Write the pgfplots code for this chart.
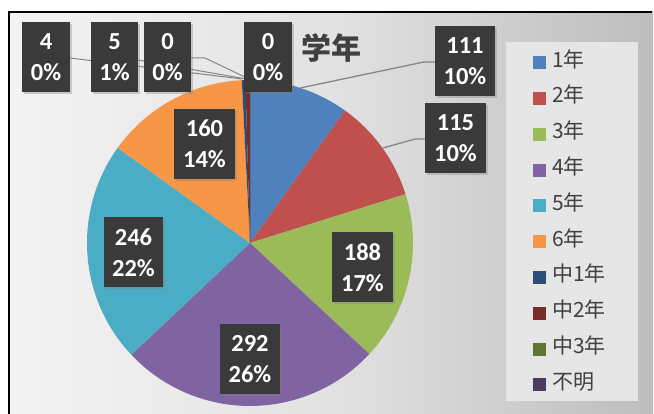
\documentclass[border=0pt]{standalone}
\usepackage{pgfplots}
\pgfplotsset{compat=1.18}
\usepackage{pgfplotstable}
\usetikzlibrary{shadows}
\usepackage{fontspec}
\setmainfont{Carlito}
\newfontfamily\cjk{Noto Sans CJK JP}
\definecolor{c1}{HTML}{4F81BD}
\definecolor{c2}{HTML}{C0504D}
\definecolor{c3}{HTML}{9BBB59}
\definecolor{c4}{HTML}{8064A2}
\definecolor{c5}{HTML}{4BACC6}
\definecolor{c6}{HTML}{F79646}
\definecolor{c7}{HTML}{2C4D75}
\definecolor{c8}{HTML}{772C2A}
\definecolor{c9}{HTML}{5F7530}
\definecolor{c10}{HTML}{4D3B62}
\definecolor{boxgray}{HTML}{3A3A3A}
\definecolor{txtgray}{HTML}{404040}
\definecolor{leadgray}{HTML}{858585}
\definecolor{bgL}{HTML}{F3F3F3}
\definecolor{bgM}{HTML}{E2E2E2}
\definecolor{bgR}{HTML}{BDBDBD}
\definecolor{legbg}{HTML}{E6E6E6}

\pgfplotstableread{
v col
111 c1
115 c2
188 c3
292 c4
246 c5
160 c6
4 c7
5 c8
0 c9
0 c10
}\piedata

\begin{document}
\begin{tikzpicture}[
  lbl/.style={fill=boxgray, text=white, align=center, inner sep=0pt,
    minimum height=70pt, font=\bfseries\fontsize{24.5}{31}\selectfont,
    drop shadow={opacity=0.35, shadow xshift=2pt, shadow yshift=-2pt}}]
\useasboundingbox (0,0) rectangle (654pt,414pt);
\begin{axis}[scale only axis, width=654pt, height=414pt,
  xmin=0, xmax=654, ymin=0, ymax=414, hide axis, clip=false,
  legend image code/.code={\fill[#1, draw=none] (0pt,-6.5pt) rectangle (13pt,6.5pt);},
  legend style={at={(axis cs:533,359)}, anchor=north west, draw=none, fill=none,
    inner sep=0pt, row sep=20.8pt, column sep=6pt,
    font=\cjk\fontsize{21}{24}\selectfont, text=txtgray,
    nodes={inner sep=0pt, text height=12pt, text depth=3pt}},
  legend cell align=left]
% background
\fill[white] (axis cs:0,0) rectangle (axis cs:654,414);
\shade[left color=bgL, right color=bgR, middle color=bgM] (axis cs:9,0) rectangle (axis cs:653,402);
\draw[black, line width=2pt] (axis cs:9,-3) -- (axis cs:9,402) -- (axis cs:652,402);
\fill[legbg] (axis cs:506,13) rectangle (axis cs:638,372);
% pie slices from data
\pgfplotstablegetrowsof{\piedata}
\pgfmathtruncatemacro\nrows{\pgfplotsretval-1}
\def\total{0}
\pgfplotsforeachungrouped \i in {0,...,\nrows}{%
  \pgfplotstablegetelem{\i}{v}\of\piedata
  \pgfmathsetmacro\total{\total+\pgfplotsretval}}
\def\cum{0}
\pgfplotsforeachungrouped \i in {0,...,\nrows}{%
  \pgfplotstablegetelem{\i}{v}\of\piedata \let\val\pgfplotsretval
  \pgfplotstablegetelem{\i}{col}\of\piedata \let\col\pgfplotsretval
  \pgfmathsetmacro\angA{90-\cum/\total*360}%
  \pgfmathsetmacro\cum{\cum+\val}%
  \pgfmathsetmacro\angB{90-\cum/\total*360}%
  \edef\temp{\noexpand\fill[\col] (axis cs:250,171) -- ++(\angA:163pt) arc[start angle=\angA, end angle=\angB, radius=163pt] -- cycle;}%
  \temp
}
% leader lines
\draw[leadgray, line width=1.3pt] (axis cs:436,352) -- (axis cs:424,352) -- (axis cs:300,326);
\draw[leadgray, line width=1.3pt] (axis cs:426,275) -- (axis cs:415,275) -- (axis cs:383,266);
\draw[leadgray, line width=1pt] (axis cs:70,356) -- (axis cs:242,335);
\draw[leadgray, line width=1pt] (axis cs:138,354) -- (axis cs:246,335);
\draw[leadgray, line width=1pt] (axis cs:190,356) -- (axis cs:205,356) -- (axis cs:249,335);
% data labels
\node[lbl, minimum width=48pt] at (axis cs:46,357) {4\\0\%};
\node[lbl, minimum width=47pt] at (axis cs:114.5,357) {5\\1\%};
\node[lbl, minimum width=47pt] at (axis cs:167.5,357) {0\\0\%};
\node[lbl, minimum width=48pt] at (axis cs:268,357) {0\\0\%};
\node[lbl, minimum width=60pt] at (axis cs:465,353) {111\\10\%};
\node[lbl, minimum width=61pt] at (axis cs:455.5,275.5) {115\\10\%};
\node[lbl, minimum width=61pt] at (axis cs:204.5,270) {160\\14\%};
\node[lbl, minimum width=61pt] at (axis cs:362.5,146.5) {188\\17\%};
\node[lbl, minimum width=59pt] at (axis cs:133.5,161.5) {246\\22\%};
\node[lbl, minimum width=60pt] at (axis cs:250,55) {292\\26\%};
% title
\node[text=txtgray, font=\cjk\bfseries\fontsize{30}{34}\selectfont] at (axis cs:331,366) {学年};
% legend
\addlegendimage{fill=c1}\addlegendentry{1年}
\addlegendimage{fill=c2}\addlegendentry{2年}
\addlegendimage{fill=c3}\addlegendentry{3年}
\addlegendimage{fill=c4}\addlegendentry{4年}
\addlegendimage{fill=c5}\addlegendentry{5年}
\addlegendimage{fill=c6}\addlegendentry{6年}
\addlegendimage{fill=c7}\addlegendentry{中1年}
\addlegendimage{fill=c8}\addlegendentry{中2年}
\addlegendimage{fill=c9}\addlegendentry{中3年}
\addlegendimage{fill=c10}\addlegendentry{不明}
\end{axis}
\end{tikzpicture}
\end{document}
